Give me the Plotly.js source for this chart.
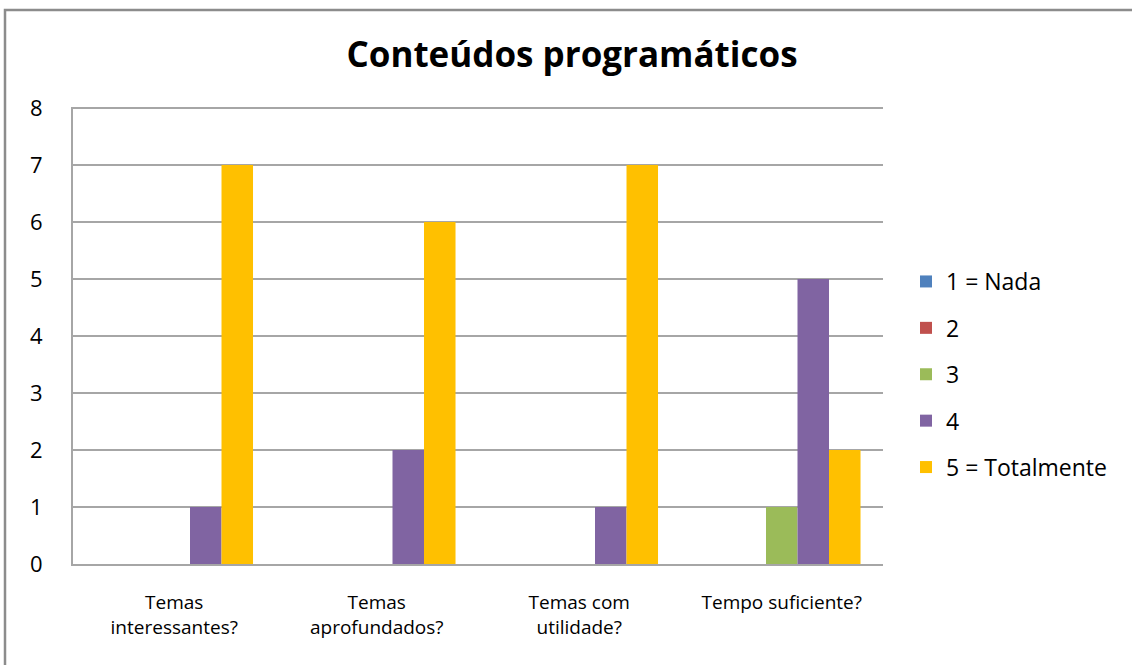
<!DOCTYPE html>
<html>
<head>
<meta charset="utf-8">
<script src="https://cdn.plot.ly/plotly-3.0.1.min.js"></script>
<style>
html,body{margin:0;padding:0;background:#fff;}
#chart{width:1132px;height:665px;}
</style>
</head>
<body>
<div id="chart"></div>
<script>
const categories = ["Temas interessantes?", "Temas aprofundados?", "Temas com utilidade?", "Tempo suficiente?"];
const tickLabels = ["Temas<br>interessantes?", "Temas<br>aprofundados?", "Temas com<br>utilidade?", "Tempo suficiente?"];
const seriesNames = ["1 = Nada", "2", "3", "4", "5 = Totalmente"];
const s1 = [0, 0, 0, 0];
const s2 = [0, 0, 0, 0];
const s3 = [0, 0, 0, 1];
const s4 = [1, 2, 1, 5];
const s5 = [7, 6, 7, 2];
const colors = ["#4F81BD", "#C0504D", "#9BBB59", "#8064A2", "#FFC000"];

const FONT = "'Open Sans', Lato, sans-serif";
const seriesValues = [s1, s2, s3, s4, s5];
const traces = seriesValues.map((vals, i) => ({
  type: "bar",
  name: seriesNames[i],
  x: categories,
  y: vals,
  marker: {color: colors[i]},
  legendgroup: "g" + i,
  hoverinfo: "x+y+name"
}));

const L = 73, R = 883, T = 107, B = 564, W = 1132, H = 665;
const px2x = p => (p - L) / (R - L);
const py2y = p => (B - p) / (B - T);

const layout = {
  width: W, height: H,
  margin: {l: L, r: W - R, t: T, b: H - B},
  paper_bgcolor: "#ffffff",
  plot_bgcolor: "#ffffff",
  barmode: "group",
  bargap: 0.222,
  bargroupgap: 0,
  font: {family: FONT, color: "#000000"},
  title: {
    text: "<b>Conteúdos programáticos</b>",
    font: {family: FONT, size: 35, color: "#000000"},
    x: 572 / W, xanchor: "center",
    y: 1 - 55 / H, yanchor: "middle", yref: "container"
  },
  xaxis: {
    type: "category",
    tickvals: categories,
    ticktext: tickLabels,
    tickfont: {family: FONT, size: 19, color: "#000000"},
    showline: true, linecolor: "#a6a6a6", linewidth: 2,
    showgrid: false, ticks: "", ticklabelstandoff: 20,
    fixedrange: true
  },
  yaxis: {
    range: [0, 8.02], dtick: 1, tick0: 0,
    tickfont: {family: FONT, size: 22, color: "#000000"},
    showline: true, linecolor: "#a6a6a6", linewidth: 2,
    showgrid: true, gridcolor: "#a6a6a6", gridwidth: 1.5,
    zeroline: false, ticks: "", ticklabelstandoff: 24,
    fixedrange: true
  },
  legend: {
    x: px2x(906), xanchor: "left",
    y: py2y(260), yanchor: "top",
    traceorder: "grouped",
    tracegroupgap: 13.5,
    font: {family: FONT, size: 23, color: "#000000"},
    bgcolor: "rgba(0,0,0,0)"
  },
  shapes: [{
    type: "rect", xref: "paper", yref: "paper",
    x0: px2x(5), x1: px2x(1145), y0: py2y(10), y1: py2y(680),
    line: {color: "#8c8c8c", width: 2.5}, fillcolor: "rgba(0,0,0,0)", layer: "below"
  }]
};

Plotly.newPlot("chart", traces, layout, {displayModeBar: false, staticPlot: true});
</script>
</body>
</html>
